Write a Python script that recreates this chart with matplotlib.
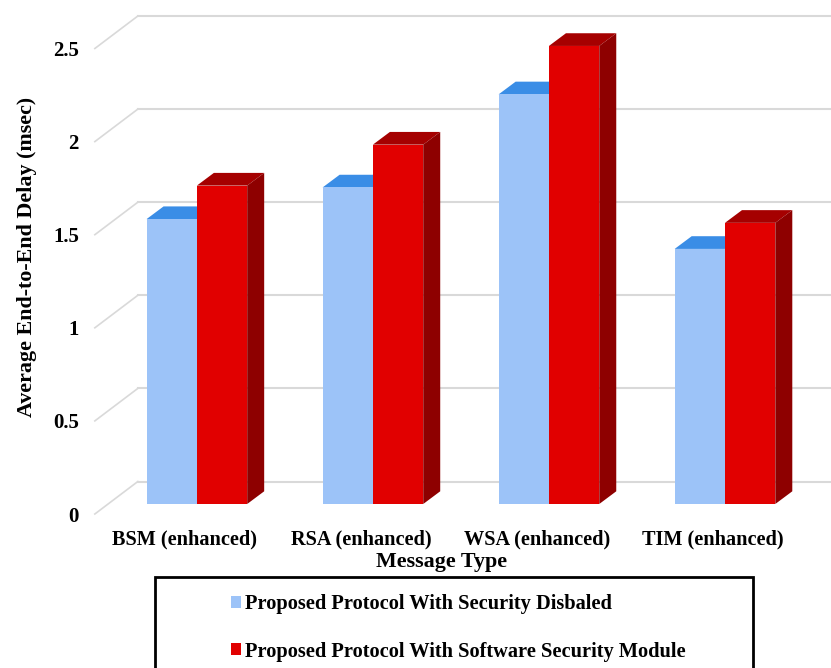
# plot.py
# Average end-to-end delay per message type, drawn as pseudo 3D columns
# on a plain 2D axes (oblique offsets done with pixel translations).

import numpy as np
import matplotlib
matplotlib.use('Agg')
import matplotlib.pyplot as plt
from matplotlib.patches import Polygon, Rectangle, Patch
from matplotlib.transforms import Affine2D

plt.rcParams['font.family'] = ['Liberation Serif', 'DejaVu Serif']
plt.rcParams['font.weight'] = 'bold'

categorias = ['BSM (enhanced)', 'RSA (enhanced)', 'WSA (enhanced)', 'TIM (enhanced)']
sin_seguridad = [1.53, 1.70, 2.20, 1.37]
con_modulo = [1.71, 1.93, 2.46, 1.51]
marcas_y = [0, 0.5, 1, 1.5, 2, 2.5]
etiquetas_y = ['0', '0.5', '1', '1.5', '2', '2.5']
nombres = ['Proposed Protocol With Security Disbaled',
           'Proposed Protocol With Software Security Module']

W, H = 831, 668
AZUL, AZUL_TOP = '#9CC3F8', '#3A8DE6'
ROJO, ROJO_TOP, ROJO_LADO = '#E10000', '#A50000', '#8E0000'
GRIS = '#D9D9D9'

# Medidas de la perspectiva, en pixeles
AX_LEFT, AX_RIGHT = 96.85, 801.0
AX_BOTTOM, AX_TOP = 514.0, 48.5
PARED = (41.0, 32.5)      # desplazamiento de la pared del fondo
FRENTE = (12.0, 10.0)     # cara frontal de las columnas
FONDO = (17.0, 12.7)      # profundidad de cada columna
ANCHO = 50.3 / 176.0      # ancho de columna en unidades de categoria

fig = plt.figure(figsize=(W / 100, H / 100), dpi=100)
fig.patch.set_facecolor('white')
ax = fig.add_axes([AX_LEFT / W, (H - AX_BOTTOM) / H,
                   (AX_RIGHT - AX_LEFT) / W, (AX_BOTTOM - AX_TOP) / H])
ax.set_xlim(-0.5, 3.5)
ax.set_ylim(0, 2.5)
for s in ax.spines.values():
    s.set_visible(False)

t_pared = ax.transData + Affine2D().translate(*PARED)
t_frente = ax.transData + Affine2D().translate(*FRENTE)

# Lineas de la pared y del lado izquierdo
for v in marcas_y:
    ax.plot([-0.5, 4.5], [v, v], color=GRIS, lw=1.5, transform=t_pared,
            clip_on=False, zorder=1)
    x0, y0 = ax.transData.transform((-0.5, v))
    xy = ax.transData.inverted().transform([(x0 - 2, y0), (x0 + PARED[0], y0 + PARED[1])])
    ax.plot(xy[:, 0], xy[:, 1], color=GRIS, lw=1.2, clip_on=False, zorder=1)

# Caras superior y lateral de una columna
px_x = (AX_RIGHT - AX_LEFT) / 4.0
px_y = (AX_BOTTOM - AX_TOP) / 2.5
fx, fy = FONDO[0] / px_x, FONDO[1] / px_y


def caras(x0, x1, v, color_top, color_lado, z):
    top = Polygon([(x0, v), (x1, v), (x1 + fx, v + fy), (x0 + fx, v + fy)],
                  closed=True, facecolor=color_top, edgecolor='none',
                  transform=t_frente, clip_on=False, zorder=z)
    ax.add_patch(top)
    if color_lado:
        lado = Polygon([(x1, 0), (x1 + fx, fy), (x1 + fx, v + fy), (x1, v)],
                       closed=True, facecolor=color_lado, edgecolor='none',
                       transform=t_frente, clip_on=False, zorder=z)
        ax.add_patch(lado)


x = np.arange(len(categorias))
for i in x:
    caras(i - ANCHO, i, sin_seguridad[i], AZUL_TOP, None, 2)
    caras(i, i + ANCHO, con_modulo[i], ROJO_TOP, ROJO_LADO, 4)

ax.bar(x - ANCHO / 2, sin_seguridad, ANCHO, color=AZUL, transform=t_frente,
       clip_on=False, zorder=3)
ax.bar(x + ANCHO / 2, con_modulo, ANCHO, color=ROJO, transform=t_frente,
       clip_on=False, zorder=5)
ax.set_xlim(-0.5, 3.5)
ax.set_ylim(0, 2.5)

# Ejes y etiquetas
ax.set_xticks(x)
ax.set_xticklabels(categorias, fontsize=14.6)
ax.set_yticks(marcas_y)
ax.set_yticklabels(etiquetas_y, fontsize=15, va='center_baseline')
ax.tick_params(axis='x', length=0, pad=11.2)
ax.tick_params(axis='y', length=0, pad=13)

ax.set_xlabel('Message Type', fontsize=15.8, fontweight='bold', va='center')
ax.xaxis.set_label_coords((442 - AX_LEFT) / (AX_RIGHT - AX_LEFT),
                          -(562.5 - AX_BOTTOM) / (AX_BOTTOM - AX_TOP))
ax.set_ylabel('Average End-to-End Delay (msec)', fontsize=15.8, fontweight='bold', va='center')
ax.yaxis.set_label_coords((27 - AX_LEFT) / (AX_RIGHT - AX_LEFT),
                          (AX_BOTTOM - 257) / (AX_BOTTOM - AX_TOP))

# Marco de la leyenda, se corta en el borde inferior
marco = Rectangle((155 / W, (H - 700) / H), 598 / W, 123 / H, transform=fig.transFigure,
                  facecolor='white', edgecolor='black', linewidth=2.0, clip_on=True, zorder=6)
fig.add_artist(marco)

handles = [Patch(facecolor=AZUL, edgecolor='none'), Patch(facecolor=ROJO, edgecolor='none')]
leg = fig.legend(handles, nombres, loc='upper left',
                 bbox_to_anchor=(231 / W, (H - 594) / H), bbox_transform=fig.transFigure,
                 frameon=False, fontsize=14.7, handlelength=0.5, handleheight=0.5,
                 handletextpad=0.2, labelspacing=1.35, borderpad=0, borderaxespad=0)
leg.set_zorder(7)

fig.savefig('out.png', dpi=100)
plt.close(fig)
